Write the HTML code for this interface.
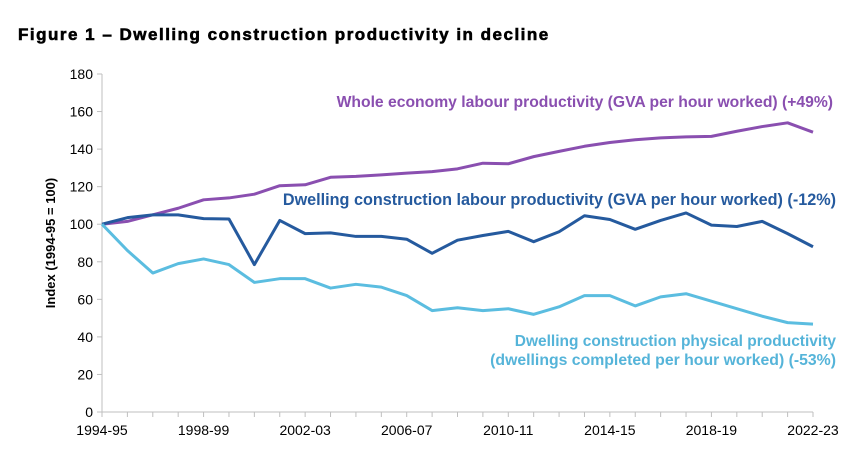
<!DOCTYPE html>
<html><head><meta charset="utf-8"><style>
body{margin:0;background:#fff;font-family:"Liberation Sans",sans-serif}
</style></head><body>
<svg width="864" height="463" id="svg" xmlns="http://www.w3.org/2000/svg" font-family="Liberation Sans, sans-serif">
<text x="18" y="40" font-size="17" font-weight="bold" fill="#000" stroke="#000" stroke-width="0.6" letter-spacing="1.5">Figure 1 – Dwelling construction productivity in decline</text>
<text transform="translate(55,243) rotate(-90)" text-anchor="middle" font-size="13" font-weight="bold" fill="#000">Index (1994-95 = 100)</text>
<g id="axes"></g>
<g id="lines"></g>
<text x="833" y="107" text-anchor="end" font-size="15.7" font-weight="bold" fill="#8a4fb0">Whole economy labour productivity (GVA per hour worked) (+49%)</text>
<text x="836" y="205" text-anchor="end" font-size="16.2" font-weight="bold" fill="#255a9e">Dwelling construction labour productivity (GVA per hour worked) (-12%)</text>
<text x="836" y="346" text-anchor="end" font-size="15.5" font-weight="bold" fill="#55b4d9">Dwelling construction physical productivity</text>
<text x="836" y="365" text-anchor="end" font-size="15.8" font-weight="bold" fill="#55b4d9">(dwellings completed per hour worked) (-53%)</text>
</svg>
<script>
const xLabels=["1994-95","1998-99","2002-03","2006-07","2010-11","2014-15","2018-19","2022-23"];
const yTicks=[0,20,40,60,80,100,120,140,160,180];
const wholeEconomy=[100,101.5,105,108.5,113,114,116,120.5,121,125,125.5,126.3,127.2,128,129.5,132.5,132.2,136,138.8,141.5,143.5,145,146,146.5,146.8,149.5,152,154,149];
const dwellingLabour=[100,103.5,105,105,103,102.8,78.5,102,95,95.4,93.5,93.5,92,84.5,91.5,94,96.2,90.7,96,104.5,102.5,97.3,102,106,99.5,98.8,101.5,95,88];
const dwellingPhysical=[100,86,74,79,81.5,78.5,69,71,71,66,68,66.5,62,54,55.5,54,55,52,56,62,62,56.5,61.3,63,59,55,51,47.6,46.8];
const NS="http://www.w3.org/2000/svg";
const x0=102,x1=813,y0=412,yTop=74,n=wholeEconomy.length;
const X=i=>x0+(x1-x0)*i/(n-1);
const Y=v=>y0-(y0-yTop)*v/180;
const axes=document.getElementById('axes'),lines=document.getElementById('lines');
function mk(t,a,p){const e=document.createElementNS(NS,t);for(const k in a)e.setAttribute(k,a[k]);p.appendChild(e);return e;}
let e=mk('line',{x1:x0,y1:yTop,x2:x0,y2:y0,stroke:'#bfbfbf','stroke-width':1},axes);


e=mk('line',{x1:x0,y1:y0,x2:x1,y2:y0,stroke:'#bfbfbf','stroke-width':1},axes);


yTicks.forEach(v=>{
 mk('line',{x1:x0-5,y1:Y(v),x2:x0,y2:Y(v),stroke:'#bfbfbf'},axes);
 const t=mk('text',{x:x0-9,y:Y(v)+5,'text-anchor':'end','font-size':14,fill:'#000'},axes);
 t.textContent=v;
 
 
});
for(let i=0;i<n;i++)mk('line',{x1:X(i),y1:y0,x2:X(i),y2:y0+5,stroke:'#bfbfbf'},axes);
xLabels.forEach((l,j)=>{
 const t=mk('text',{x:X(j*4),y:y0+23,'text-anchor':'middle','font-size':14,fill:'#000'},axes);
 t.textContent=l;
 
 
});
[[wholeEconomy,'#8a4fb0','line-whole-economy'],[dwellingLabour,'#255a9e','line-dwelling-labour'],[dwellingPhysical,'#5bbde0','line-dwelling-physical']].forEach(([d,c,nm])=>{
 const p=mk('polyline',{points:d.map((v,i)=>X(i)+','+Y(v)).join(' '),fill:'none',stroke:c,'stroke-width':3,'stroke-linejoin':'round'},lines);
 
 
});
</script>
</body></html>
